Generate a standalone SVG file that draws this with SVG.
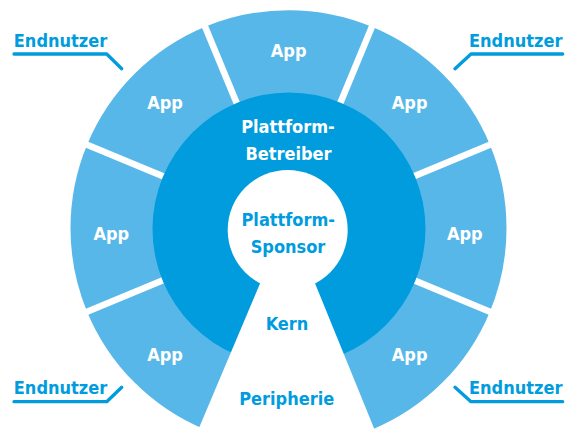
<svg xmlns="http://www.w3.org/2000/svg" width="571" height="429" viewBox="0 0 571 429">
  <style>
    .app { fill: #58b7e9; }
    .core { fill: #009cdd; }
    .hole { fill: #ffffff; }
    .sep { stroke: #ffffff; stroke-width: 6.5; fill: none; }
    .lead { stroke: #009cdd; stroke-width: 3.3; fill: none; stroke-linecap: round; stroke-linejoin: round; }
    text { font-family: "DejaVu Sans Condensed", "DejaVu Sans", sans-serif; font-stretch: condensed; font-weight: bold; font-size: 18px; text-anchor: middle; }
    .w { fill: #ffffff; }
    .b { fill: #009cdd; }
  </style>

  <!-- outer ring: seven app sectors, 45 degrees each around (288.5, 228.2) -->
  <g id="app-top">
    <path class="app" d="M288.5,228.2 L205.07,26.79 A218,218 0 0 1 371.93,26.79 Z"/>
    <text class="w" x="288.7" y="57.3">App</text>
  </g>
  <g id="app-top-right">
    <path class="app" d="M288.5,228.2 L371.93,26.79 A218,218 0 0 1 489.91,144.77 Z"/>
    <text class="w" x="409.7" y="109.3">App</text>
  </g>
  <g id="app-right">
    <path class="app" d="M288.5,228.2 L489.91,144.77 A218,218 0 0 1 489.91,311.63 Z"/>
    <text class="w" x="464.8" y="240">App</text>
  </g>
  <g id="app-bottom-right">
    <path class="app" d="M288.5,228.2 L489.91,311.63 A218,218 0 0 1 371.93,429.61 Z"/>
    <text class="w" x="409.7" y="360.7">App</text>
  </g>
  <g id="app-bottom-left">
    <path class="app" d="M288.5,228.2 L205.07,429.61 A218,218 0 0 1 87.09,311.63 Z"/>
    <text class="w" x="165" y="360.7">App</text>
  </g>
  <g id="app-left">
    <path class="app" d="M288.5,228.2 L87.09,311.63 A218,218 0 0 1 87.09,144.77 Z"/>
    <text class="w" x="111.3" y="240">App</text>
  </g>
  <g id="app-top-left">
    <path class="app" d="M288.5,228.2 L87.09,144.77 A218,218 0 0 1 205.07,26.79 Z"/>
    <text class="w" x="165" y="109.3">App</text>
  </g>

  <!-- white separators between the app sectors -->
  <g id="separators" transform="translate(288.5 228.2)">
    <line class="sep" x1="0" y1="-100" x2="0" y2="-235" transform="rotate(22.5)"/>
    <line class="sep" x1="0" y1="-100" x2="0" y2="-235" transform="rotate(-22.5)"/>
    <line class="sep" x1="0" y1="-100" x2="0" y2="-235" transform="rotate(67.5)"/>
    <line class="sep" x1="0" y1="-100" x2="0" y2="-235" transform="rotate(-67.5)"/>
    <line class="sep" x1="0" y1="-100" x2="0" y2="-235" transform="rotate(112.5)"/>
    <line class="sep" x1="0" y1="-100" x2="0" y2="-235" transform="rotate(-112.5)"/>
  </g>

  <!-- inner ring: platform operator -->
  <g id="betreiber">
    <circle class="core" cx="289" cy="229" r="136.5"/>
    <text class="w" x="288" y="133.3">Plattform-</text>
    <text class="w" x="288.5" y="160">Betreiber</text>
  </g>

  <!-- keyhole: sponsor circle and the open wedge to the periphery -->
  <g id="sponsor">
    <circle class="hole" cx="287.7" cy="230" r="60"/>
    <polygon class="hole" points="278.4,240 297.4,240 378.8,440 193.9,440"/>
    <text class="b" x="288.3" y="225.7">Plattform-</text>
    <text class="b" x="288" y="252.7">Sponsor</text>
  </g>

  <g id="kern">
    <text class="b" x="287" y="330">Kern</text>
  </g>
  <g id="peripherie">
    <text class="b" x="286.7" y="404.7">Peripherie</text>
  </g>

  <!-- end users in the four corners -->
  <g id="endnutzer-tl"><text class="b" x="60.5" y="46.7">Endnutzer</text></g>
  <g id="endnutzer-tr"><text class="b" x="515.7" y="46.7">Endnutzer</text></g>
  <g id="endnutzer-bl"><text class="b" x="60.5" y="394">Endnutzer</text></g>
  <g id="endnutzer-br"><text class="b" x="515.7" y="394">Endnutzer</text></g>

  <!-- leader lines from the end-user labels to the ring -->
  <g id="connectors">
    <polyline class="lead" points="14,54 106.7,54 121.7,68.7"/>
    <polyline class="lead" points="455,68.7 471,54 562.7,54"/>
    <polyline class="lead" points="14,401.7 106.7,401.7 121.7,387.3"/>
    <polyline class="lead" points="455,387.3 471,401.7 562.7,401.7"/>
  </g>
</svg>
